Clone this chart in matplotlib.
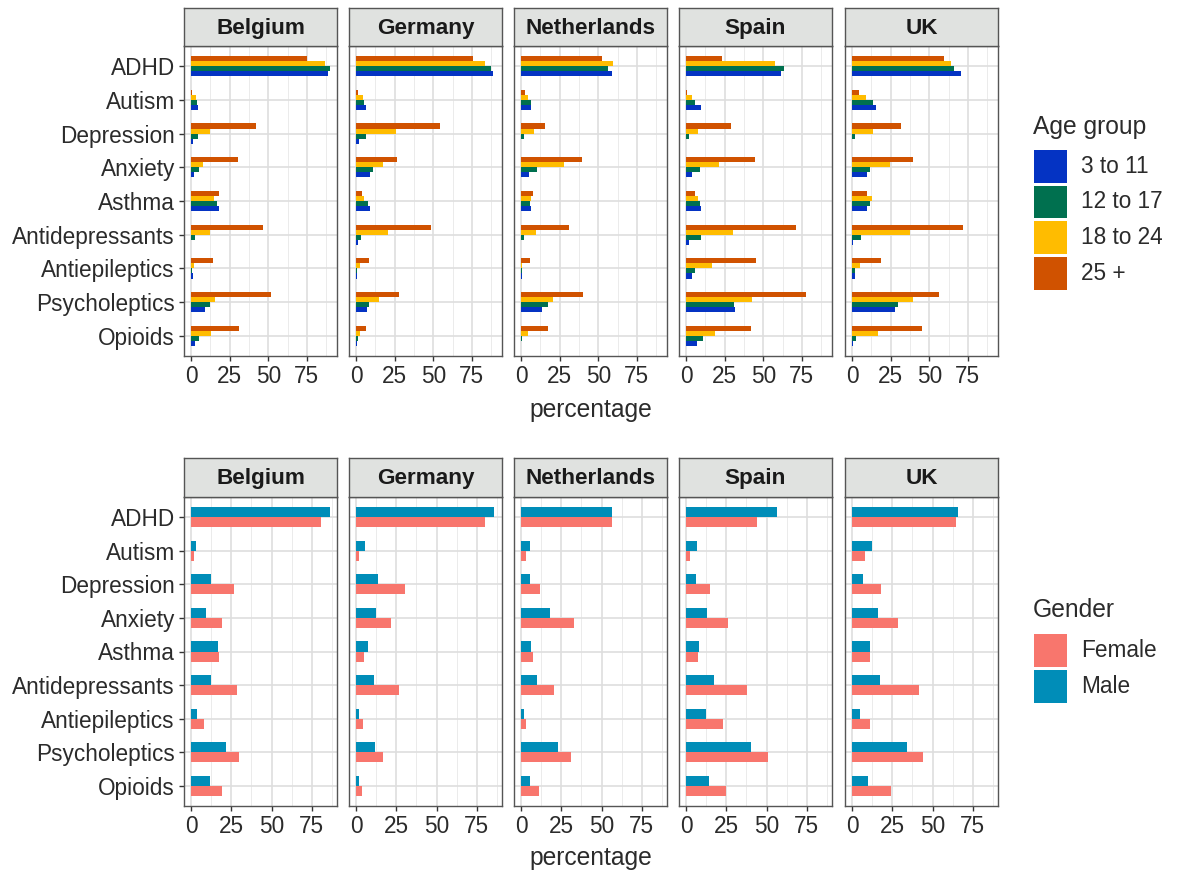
import numpy as np
import matplotlib.pyplot as plt
from matplotlib.patches import Rectangle

plt.rcParams['font.family'] = ['Liberation Sans', 'DejaVu Sans']

countries = ['Belgium', 'Germany', 'Netherlands', 'Spain', 'UK']
conditions = ['ADHD', 'Autism', 'Depression', 'Anxiety', 'Asthma',
              'Antidepressants', 'Antiepileptics', 'Psycholeptics', 'Opioids']
age_groups = ['3 to 11', '12 to 17', '18 to 24', '25 +']
age_colors = ['#0433C3', '#00704F', '#FFBC00', '#D05200']
genders = ['Female', 'Male']
gender_colors = ['#F8766D', '#008DB8']

# percentage by age group: rows = conditions, cols = 3-11, 12-17, 18-24, 25+
age_belgium = [[88.4, 90.0, 87.0, 75.0], [4.3, 3.7, 3.0, 0.9], [1.3, 4.3, 12.0, 42.4],
               [1.7, 5.0, 7.5, 30.3], [18.3, 16.8, 14.6, 18.0], [0.3, 2.4, 12.3, 46.7],
               [1.5, 0.9, 1.7, 14.0], [9.2, 12.0, 15.3, 52.0], [2.4, 5.4, 12.9, 31.4]]
age_germany = [[88.4, 87.3, 83.4, 75.7], [6.2, 5.0, 4.3, 1.3], [1.9, 6.2, 25.6, 54.6],
               [9.0, 11.2, 17.4, 26.5], [8.8, 8.0, 5.0, 3.7], [1.3, 3.2, 21.0, 48.6],
               [0.9, 0.9, 2.8, 8.6], [7.3, 8.2, 14.8, 28.0], [0.4, 1.3, 2.8, 6.2]]
age_netherlands = [[59.1, 56.3, 59.6, 52.5], [6.7, 6.2, 4.7, 2.4], [0.2, 1.7, 8.6, 15.7],
                   [5.2, 10.1, 27.7, 39.4], [6.7, 5.6, 6.5, 7.7], [0.2, 1.7, 9.5, 31.4],
                   [0.4, 0.4, 0.6, 5.6], [13.3, 17.8, 20.6, 40.4], [0.2, 0.6, 4.7, 17.2]]
age_spain = [[61.5, 63.4, 57.6, 23.0], [9.5, 5.6, 4.1, 0.9], [0.2, 2.2, 8.0, 29.2],
             [4.1, 9.2, 21.5, 44.7], [9.5, 8.8, 7.5, 5.6], [2.2, 9.9, 30.5, 71.2],
             [4.1, 5.6, 16.6, 45.6], [32.0, 30.8, 42.8, 77.8], [6.9, 11.0, 18.9, 42.4]]
age_uk = [[70.3, 65.8, 64.1, 59.6], [15.3, 13.8, 8.8, 4.7], [0.2, 1.7, 13.5, 32.0],
          [9.9, 11.8, 24.3, 39.4], [9.9, 11.8, 12.9, 9.9], [0.4, 6.0, 37.4, 71.6],
          [2.2, 2.2, 5.4, 18.7], [27.7, 30.1, 39.4, 56.3], [0.4, 2.6, 16.6, 45.2]]

# percentage by gender: rows = conditions, cols = Female, Male
sex_belgium = [[80.8, 86.3], [1.6, 3.3], [26.8, 12.6], [19.4, 9.1], [17.1, 16.9],
               [28.4, 12.6], [7.8, 3.5], [29.5, 22.0], [19.4, 12.0]]
sex_germany = [[80.0, 85.9], [2.1, 5.6], [30.3, 13.8], [21.6, 12.4], [4.9, 7.4],
               [26.6, 11.3], [4.3, 2.1], [16.5, 12.0], [3.5, 2.1]]
sex_netherlands = [[56.3, 56.3], [3.1, 5.4], [11.7, 5.4], [32.8, 17.9], [7.2, 6.4],
                   [20.6, 10.1], [3.1, 1.6], [30.9, 23.1], [10.9, 5.4]]
sex_spain = [[44.1, 56.7], [2.5, 6.8], [15.0, 6.0], [25.8, 13.2], [7.2, 8.4],
             [37.7, 17.3], [22.9, 12.4], [50.7, 40.6], [24.9, 14.6]]
sex_uk = [[64.5, 65.9], [8.4, 12.4], [18.3, 6.6], [28.8, 15.9], [10.9, 10.9],
          [41.4, 17.7], [11.1, 4.7], [44.1, 34.0], [24.1, 10.1]]

age_data = [age_belgium, age_germany, age_netherlands, age_spain, age_uk]
sex_data = [sex_belgium, sex_germany, sex_netherlands, sex_spain, sex_uk]

W, H = 1179, 873
FS = 16.3
TFS = 17.7
TXT = '#2b2b2b'


def box(x0, y0, w, h):
    return [x0 / W, 1 - (y0 + h) / H, w / W, h / H]


fig = plt.figure(figsize=(W / 100, H / 100), dpi=100)
fig.patch.set_facecolor('white')

lefts = [184, 349, 514, 679, 845]
pw = 153


def draw_row(data, labels, colors, y_strip, y_panel, ph, bar_h, xlab_y):
    arr = np.array(data)
    hi = arr.max()
    xlim = (-0.05 * hi, hi * 1.05)
    n = len(labels)
    offs = (np.arange(n) - (n - 1) / 2) * bar_h
    ypos = np.arange(len(conditions))[::-1]
    for c, country in enumerate(countries):
        ax = fig.add_axes(box(lefts[c], y_panel, pw, ph))
        ax.set_xlim(xlim)
        ax.set_ylim(-0.6, len(conditions) - 0.4)
        for v in [12.5, 37.5, 62.5, 87.5]:
            ax.axvline(v, color='#EBEBEB', lw=0.7, zorder=0)
        for v in [0, 25, 50, 75]:
            ax.axvline(v, color='#DEDEDE', lw=1.2, zorder=0)
        for y in ypos:
            ax.axhline(y, color='#DEDEDE', lw=1.2, zorder=0)
        vals = arr[c]
        for g in range(n):
            ax.barh(ypos + offs[g], vals[:, g], height=bar_h, color=colors[g],
                    edgecolor='none', zorder=2)
        ax.set_xticks([0, 25, 50, 75])
        ax.set_yticks(ypos)
        if c == 0:
            ax.set_yticklabels(conditions)
        else:
            ax.set_yticklabels([])
        ax.tick_params(labelsize=FS, colors='#333333', labelcolor=TXT,
                       length=3.6, width=1, pad=3)
        if c != 0:
            ax.tick_params(axis='y', length=0)
        for s in ax.spines.values():
            s.set_color('#555555')
            s.set_linewidth(1)
        # strip
        sx = fig.add_axes(box(lefts[c], y_strip, pw, y_panel - y_strip))
        sx.set_facecolor('#E0E2E0')
        sx.set_xticks([])
        sx.set_yticks([])
        for s in sx.spines.values():
            s.set_color('#555555')
            s.set_linewidth(1)
        sx.text(0.5, 0.47, country, ha='center', va='center', fontsize=16.2,
                fontweight='bold', color='#1a1a1a', transform=sx.transAxes)
    fig.text((lefts[0] + lefts[-1] + pw) / 2 / W, 1 - xlab_y / H, 'percentage',
             ha='center', va='center', fontsize=TFS, color=TXT)


draw_row(age_data, age_groups, age_colors, 8, 46, 310, 0.15, 410)
draw_row(sex_data, genders, gender_colors, 458, 497, 309, 0.3, 858)


def legend(title, labels, colors, title_y, box_top, step, bh):
    fig.text(1033 / W, 1 - title_y / H, title, ha='left', va='center',
             fontsize=TFS, color=TXT)
    for i, (lab, col) in enumerate(zip(labels, colors)):
        y0 = box_top + i * step
        fig.patches.append(Rectangle((1034 / W, 1 - (y0 + bh) / H), 33 / W, bh / H,
                                     transform=fig.transFigure, facecolor=col,
                                     edgecolor='none'))
        fig.text(1081 / W, 1 - (y0 + bh / 2) / H, lab, ha='left', va='center',
                 fontsize=FS, color=TXT)


legend('Age group', age_groups, age_colors, 127, 150, 35.7, 32.5)
legend('Gender', genders, gender_colors, 610, 634, 36, 33)

fig.savefig('out.png', dpi=100)
